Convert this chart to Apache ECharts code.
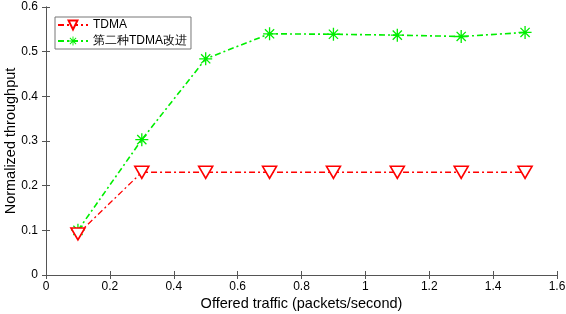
<!DOCTYPE html>
<html>
<head>
<meta charset="utf-8">
<script src="https://cdn.jsdelivr.net/npm/echarts@6/dist/echarts.min.js"></script>
<style>
html,body{margin:0;padding:0;background:#fff;}
#main{width:566px;height:314px;}
</style>
</head>
<body>
<div id="main"></div>
<script>
var offered = [0.1, 0.3, 0.5, 0.7, 0.9, 1.1, 1.3, 1.5];
var tdma = [0.092, 0.230, 0.230, 0.230, 0.230, 0.230, 0.230, 0.230];
var improved = [0.100, 0.303, 0.484, 0.540, 0.539, 0.537, 0.534, 0.543];
var seriesNames = ['TDMA', '第二种TDMA改进'];

// asterisk marker (+ and x overlapped)
var star = 'path://M-10,-1L10,-1L10,1L-10,1Z M-1,-10L1,-10L1,10L-1,10Z ' +
    'M-6.36,-7.78L7.78,6.36L6.36,7.78L-7.78,-6.36Z ' +
    'M-7.78,6.36L6.36,-7.78L7.78,-6.36L-6.36,7.78Z';

function pairs(ys) {
    return offered.map(function (x, i) { return [x, ys[i]]; });
}
function fmt(v) { return String(Math.round(v * 10) / 10); }

var myChart = echarts.init(document.getElementById('main'));
var font = 'Liberation Sans, Arial, sans-serif';
var axisCol = '#555';

option = {
    backgroundColor: '#fff',
    animation: false,
    textStyle: { fontFamily: font },
    grid: { left: 46, right: 9, top: 7, bottom: 39, outerBoundsMode: 'none', containLabel: false },
    legend: {
        left: 55, top: 17,
        orient: 'vertical',
        data: seriesNames,
        itemWidth: 30, itemHeight: 11, itemGap: 4,
        padding: [2, 4, 2, 2],
        borderColor: '#777', borderWidth: 1,
        backgroundColor: '#fff',
        textStyle: { fontSize: 12, lineHeight: 11, color: '#000', fontFamily: font }
    },
    xAxis: [{
        type: 'value', min: 0, max: 1.6, interval: 0.2,
        name: 'Offered traffic (packets/second)',
        nameLocation: 'middle', nameGap: 21, nameMoveOverlap: false,
        nameTextStyle: { fontSize: 14.5, color: '#000' },
        axisLine: { onZero: false, lineStyle: { color: axisCol } },
        axisTick: { inside: true, length: 4, lineStyle: { color: axisCol } },
        axisLabel: { color: '#000', fontSize: 12, margin: 6, formatter: fmt },
        splitLine: { show: false }
    }, {
        type: 'value', min: 0, max: 1.6, interval: 0.2, position: 'top',
        axisLine: { show: true, lineStyle: { color: axisCol } },
        axisTick: { inside: true, length: 4, lineStyle: { color: axisCol } },
        axisLabel: { show: false }, splitLine: { show: false }
    }],
    yAxis: [{
        type: 'value', min: 0, max: 0.6, interval: 0.1,
        name: 'Normalized throughput',
        nameLocation: 'middle', nameGap: 28, nameMoveOverlap: false,
        nameTextStyle: { fontSize: 14.5, color: '#000' },
        axisLine: { show: true, onZero: false, lineStyle: { color: axisCol } },
        axisTick: { show: true, inside: true, length: 4, lineStyle: { color: axisCol } },
        axisLabel: { color: '#000', fontSize: 12, margin: 8, formatter: fmt },
        splitLine: { show: false }
    }, {
        type: 'value', min: 0, max: 0.6, interval: 0.1, position: 'right',
        axisLine: { show: true, lineStyle: { color: axisCol } },
        axisTick: { show: true, inside: true, length: 4, lineStyle: { color: axisCol } },
        axisLabel: { show: false }, splitLine: { show: false }
    }],
    series: [{
        name: seriesNames[0],
        type: 'line',
        data: pairs(tdma),
        symbol: 'path://M0,0L20,0L10,17Z',
        symbolSize: [14, 12],
        showAllSymbol: true,
        itemStyle: { color: '#fff', borderColor: '#ff0000', borderWidth: 1.6 },
        lineStyle: { color: '#ff0000', width: 1.3, type: [6, 3, 2, 3] },
        z: 3
    }, {
        name: seriesNames[1],
        type: 'line',
        data: pairs(improved),
        symbol: star,
        symbolSize: 13,
        showAllSymbol: true,
        itemStyle: { color: '#00ee00', borderWidth: 0 },
        lineStyle: { color: '#00ee00', width: 1.6, type: [6, 3, 2, 3] },
        z: 2
    }]
};
myChart.setOption(option);
</script>
</body>
</html>
